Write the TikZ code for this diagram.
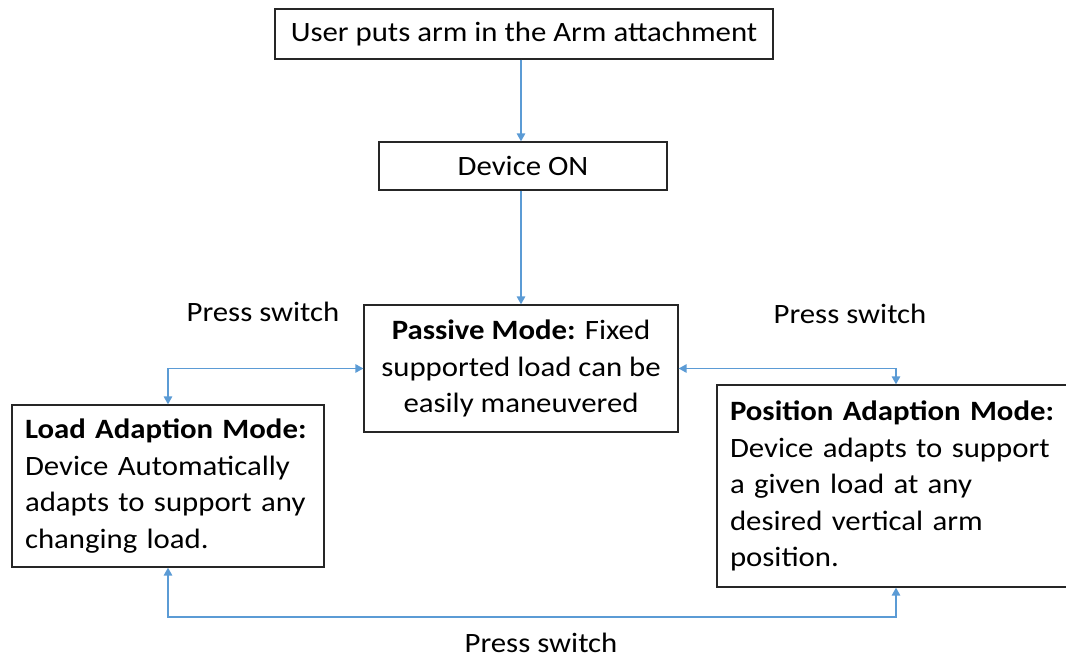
\documentclass[tikz,border=0pt]{standalone}
\usepackage{fontspec}
\setmainfont[FakeStretch=1.1]{Carlito}
\usetikzlibrary{arrows.meta}
\definecolor{linkblue}{HTML}{5B9BD5}
\tikzset{
  box/.style={draw=black!85, line width=1.3pt, fill=white, inner sep=0pt,
    font=\fontsize{28}{36.5}\selectfont},
  modebox/.style={box, align=left, inner xsep=13pt},
  link/.style={draw=linkblue, line width=1.5pt,
    arrows={Triangle[length=8pt,width=8.5pt]-Triangle[length=8pt,width=8.5pt]}},
  flow/.style={draw=linkblue, line width=1.5pt, -{Triangle[length=8pt,width=8.5pt]}},
  lbl/.style={font=\fontsize{28}{32}\selectfont, inner sep=0pt}
}
\begin{document}
\begin{tikzpicture}[x=1pt,y=-1pt]
\useasboundingbox (0,0) rectangle (1066,658);

\node[box, minimum width=498pt, minimum height=50pt] (user) at (524,34)
  {User puts arm in the Arm attachment};
\node[box, minimum width=288pt, minimum height=48pt] (on) at (523,166)
  {Device ON};
\node[box, minimum width=314pt, minimum height=127pt, align=center] (passive) at (521,368.5)
  {\textbf{Passive Mode:} Fixed\\ supported load can be\\ easily maneuvered};
\node[modebox, minimum width=312pt, minimum height=162pt, text width=286pt] (load) at (168,486)
  {\textbf{Load Adaption Mode:}\\ Device Automatically\\ adapts to support any\\ changing load.};
\node[modebox, minimum width=358pt, minimum height=202pt, text width=332pt] (position) at (896,486)
  {\textbf{Position Adaption Mode:}\\ Device adapts to support\\ a given load at any\\ desired vertical arm\\ position.};

\coordinate (bottom) at (0,617);

\draw[flow] (passive.north |- user.south) -- (passive.north |- on.north);
\draw[flow] (passive.north |- on.south) -- (passive.north);
\draw[link] (load.north) |- (passive.west);
\draw[link] (passive.east) -| (position.north);
\draw[link] (load.south) -- (load.south |- bottom) -| (position.south);

\node[lbl] (pl) at (263,312) {Press switch};
\node[lbl] (pr) at (850,314) {Press switch};
\node[lbl] (pb) at (541,643) {Press switch};
\end{tikzpicture}
\end{document}
